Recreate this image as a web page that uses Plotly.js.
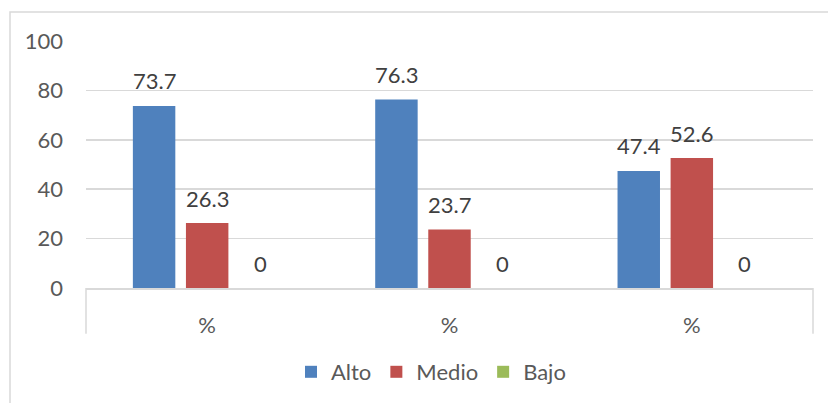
<!DOCTYPE html>
<html>
<head>
<meta charset="utf-8">
<script src="https://cdn.plot.ly/plotly-3.0.1.min.js"></script>
<style>html,body{margin:0;padding:0;background:#fff;}#chart{width:828px;height:403px;}</style>
</head>
<body>
<div id="chart"></div>
<script>
const groups = ["%", "%", "%"];
const seriesNames = ["Alto", "Medio", "Bajo"];
const alto = [73.7, 76.3, 47.4];
const medio = [26.3, 23.7, 52.6];
const bajo = [0, 0, 0];
const colors = ["#4F81BD", "#C0504D", "#9BBB59"];
const seriesValues = [alto, medio, bajo];

const W = 828, H = 403;
const margin = {l: 86, r: 15, t: 41, b: 114};
const bargap = 0.343, bargroupgap = 0.2;
const plotW = W - margin.l - margin.r;
const plotH = H - margin.t - margin.b;
const xIdx = groups.map((g, i) => i);
const slot = plotW / groups.length * (1 - bargap) / seriesNames.length;

const font = "Lato, 'Open Sans', sans-serif";
const fs = 22;
const traces = seriesNames.map((name, s) => ({
  type: "bar",
  name: name,
  x: xIdx,
  y: seriesValues[s],
  marker: {color: colors[s]},
  hoverinfo: "none"
}));

const annotations = [];
seriesValues.forEach((vals, s) => {
  vals.forEach((v, i) => {
    annotations.push({
      x: xIdx[i], y: v, xref: "x", yref: "y",
      text: String(v), showarrow: false,
      xshift: (s - 1) * slot, yshift: 25,
      yanchor: "middle", xanchor: "center",
      font: {family: font, size: fs, color: "#404040"}
    });
  });
});

const gray = "#d9d9d9";
const shapes = [
  {type: "rect", xref: "paper", yref: "paper",
   x0: (10 - margin.l) / plotW, x1: (W + 5 - margin.l) / plotW,
   y0: -(H + 5 - (H - margin.b)) / plotH,
   y1: ((H - margin.b) - 12) / plotH,
   line: {color: gray, width: 1.5}, fillcolor: "rgba(0,0,0,0)", layer: "below"},
  {type: "line", xref: "paper", yref: "paper", x0: 0, x1: 0, y0: 0, y1: -46 / plotH,
   line: {color: gray, width: 1.5}},
  {type: "line", xref: "paper", yref: "paper", x0: 1, x1: 1, y0: 0, y1: -46 / plotH,
   line: {color: gray, width: 1.5}}
];

const layout = {
  width: W, height: H,
  margin: margin,
  paper_bgcolor: "#fff", plot_bgcolor: "#fff",
  barmode: "group", bargap: bargap, bargroupgap: bargroupgap,
  showlegend: true,
  legend: {orientation: "h", x: (431 - margin.l) / plotW, xanchor: "center",
           y: -(372 - (H - margin.b)) / plotH, yanchor: "middle",
           font: {family: font, size: fs, color: "#595959"}, traceorder: "normal"},
  xaxis: {
    range: [-0.5, groups.length - 0.5],
    tickvals: xIdx, ticktext: groups,
    showgrid: false, zeroline: false, showline: true, linecolor: gray, linewidth: 1.5,
    ticks: "", ticklabelstandoff: 17,
    tickfont: {family: font, size: fs, color: "#595959"},
    fixedrange: true
  },
  yaxis: {
    range: [0, 100], dtick: 20, tick0: 0,
    showgrid: true, gridcolor: gray, gridwidth: 1.5,
    zeroline: false, showline: false,
    ticks: "", ticklabelstandoff: 22,
    tickfont: {family: font, size: fs, color: "#595959"},
    fixedrange: true
  },
  annotations: annotations,
  shapes: shapes
};

Plotly.newPlot("chart", traces, layout, {displayModeBar: false, staticPlot: true});
</script>
</body>
</html>
